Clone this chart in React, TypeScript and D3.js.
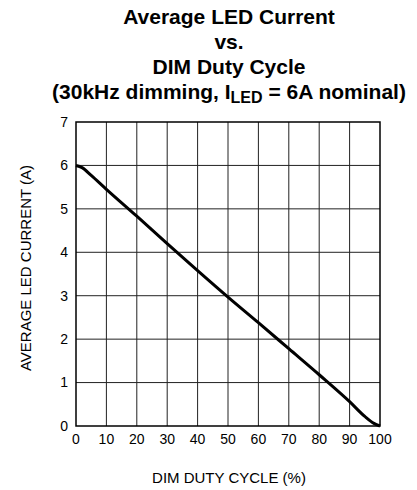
import React from "react";
import * as d3 from "d3";

// duty cycle (%) vs average LED current (A)
const dutyCycle = [0, 2, 5, 10, 20, 30, 40, 50, 60, 70, 80, 90, 95, 98, 100];
const ledCurrent = [6.0, 5.95, 5.77, 5.45, 4.83, 4.2, 3.58, 2.97, 2.38, 1.78, 1.18, 0.56, 0.22, 0.06, 0];

const xTicks = [0, 10, 20, 30, 40, 50, 60, 70, 80, 90, 100];
const yTicks = [0, 1, 2, 3, 4, 5, 6, 7];

const titleLines = ["Average LED Current", "vs.", "DIM Duty Cycle"];

export default function App() {
    const width = 417;
    const height = 490;
    const margin = { top: 122, right: 37, bottom: 64, left: 76 };

    const x = d3.scaleLinear().domain([0, 100]).range([margin.left, width - margin.right]);
    const y = d3.scaleLinear().domain([0, 7]).range([height - margin.bottom, margin.top]);

    const points = dutyCycle.map((d, i) => ({ d, c: ledCurrent[i] }));
    const line = d3.line<{ d: number; c: number }>()
        .x((p) => x(p.d))
        .y((p) => y(p.c))
        .curve(d3.curveMonotoneX);

    const font = "Liberation Sans, Arial, sans-serif";

    return (
        <svg width={width} height={height} style={{ position: "absolute", left: 0, top: 0, background: "#fff" }} fontFamily={font}>
            {titleLines.map((t, i) => (
                <text key={t} x={229} y={24 + i * 25} textAnchor="middle" fontSize={21} fontWeight="bold">{t}</text>
            ))}
            <text x={229} y={99} textAnchor="middle" fontSize={21} fontWeight="bold">
                (30kHz dimming, I<tspan fontSize={16} dy={4}>LED</tspan><tspan dy={-4}> = 6A nominal)</tspan>
            </text>

            {/* grid */}
            {xTicks.slice(1, -1).map((t) => (
                <line key={"gx" + t} x1={x(t)} x2={x(t)} y1={y(0)} y2={y(7)} stroke="#222" strokeWidth={1} />
            ))}
            {yTicks.slice(1, -1).map((t) => (
                <line key={"gy" + t} x1={x(0)} x2={x(100)} y1={y(t)} y2={y(t)} stroke="#222" strokeWidth={1} />
            ))}
            <rect x={x(0)} y={y(7)} width={x(100) - x(0)} height={y(0) - y(7)} fill="none" stroke="#000" strokeWidth={1.5} />

            {/* tick labels */}
            {yTicks.map((t) => (
                <text key={"ty" + t} x={x(0) - 8} y={y(t)} dy="0.35em" textAnchor="end" fontSize={14}>{t}</text>
            ))}
            {xTicks.map((t) => (
                <text key={"tx" + t} x={x(t)} y={y(0) + 18} textAnchor="middle" fontSize={14}>{t}</text>
            ))}

            <path d={line(points) || ""} fill="none" stroke="#000" strokeWidth={3} strokeLinejoin="round" />

            <text x={229} y={483} textAnchor="middle" fontSize={15}>DIM DUTY CYCLE (%)</text>
            <text transform="translate(26,268) rotate(-90)" textAnchor="middle" dy="0.35em" fontSize={15}>AVERAGE LED CURRENT (A)</text>
        </svg>
    );
}
